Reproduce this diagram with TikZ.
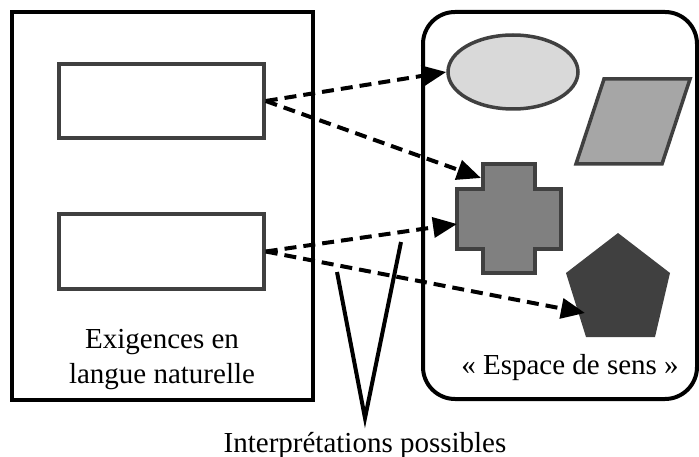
\documentclass[tikz,border=0pt]{standalone}
\usepackage{fontspec}
\setmainfont{Liberation Serif}
\usetikzlibrary{arrows.meta,shapes.geometric}
\definecolor{strokegray}{HTML}{404040}
\definecolor{lightfill}{HTML}{D9D9D9}
\definecolor{midfill}{HTML}{A6A6A6}
\definecolor{crossfill}{HTML}{808080}
\definecolor{darkfill}{HTML}{404040}
\begin{document}
\begin{tikzpicture}[x=1pt,y=-1pt,
  frame/.style={draw=black,line width=4pt,inner sep=0pt,outer sep=0pt},
  req/.style={draw=strokegray,line width=3.5pt,minimum width=205pt,minimum height=74pt,inner sep=0pt},
  shp/.style={draw=strokegray,line width=3.5pt},
  interp/.style={dash pattern=on 12pt off 7pt,line width=4pt,-{Triangle[length=24pt,width=20pt]}},
  vline/.style={line width=4pt},
  lbl/.style={font=\fontsize{29}{35}\selectfont,align=center,inner sep=0pt}]
\useasboundingbox (0,0) rectangle (699,457);
% frames
\node[frame,minimum width=301pt,minimum height=388pt] (left) at (162.5,206) {};
\node[frame,rounded corners=32pt,minimum width=274pt,minimum height=387pt] (space) at (560,205.5) {};
% requirement boxes
\node[req] (r1) at (161.5,101) {};
\node[req,minimum height=75pt] (r2) at (161.5,251.5) {};
% shapes
\node[ellipse,shp,fill=lightfill,minimum width=130pt,minimum height=74pt,inner sep=0pt] (ell) at (513,72) {};
\draw[shp,fill=midfill] (576,164) -- (604,79) -- (690,79) -- (662,164) -- cycle;
\draw[shp,fill=crossfill] (483,164) -- (535,164) -- (535,189) -- (561,189) -- (561,249) -- (535,249) -- (535,273) -- (483,273) -- (483,249) -- (457,249) -- (457,189) -- (483,189) -- cycle;
\coordinate (crossnotch) at (481,178);
\coordinate (crossleft) at (457,224);
\fill[darkfill] (618,233) -- (670,273) -- (655,337) -- (586,337) -- (566,273) -- cycle;
\coordinate (penta) at (585,313);
% labels
\node[lbl] (reqlbl) at (162,360) {Exigences en\\langue naturelle};
\node[lbl,anchor=base] (senslbl) at (570,374) {« Espace de sens »};
\node[lbl,anchor=base] (interplbl) at (365,452) {Interprétations possibles};
% V
\coordinate (vL) at (337,272);
\coordinate (vA) at (365,418);
\coordinate (vR) at (401,242);
\draw[vline,line join=miter] (vL) -- (vA) -- (vR);
% arrows
\draw[interp] (r1.east) -- (ell.west);
\draw[interp] (r1.east) -- (crossnotch);
\draw[interp] (r2.east) -- (crossleft);
\draw[interp] (r2.east) -- (penta);
\end{tikzpicture}
\end{document}
